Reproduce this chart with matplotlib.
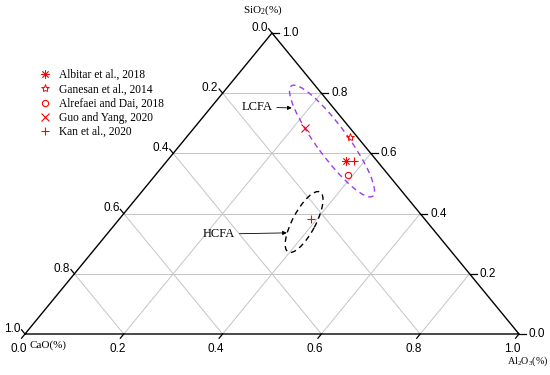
import matplotlib
matplotlib.use('Agg')
import matplotlib.pyplot as plt
from matplotlib.patches import Ellipse
from matplotlib.transforms import ScaledTranslation

# compositions (mass fractions)
albitar_sio2 = [0.575]
albitar_al2o3 = [0.362]
ganesan_sio2 = [0.654]
ganesan_al2o3 = [0.331]
alrefaei_sio2 = [0.528]
alrefaei_al2o3 = [0.390]
guo_sio2 = [0.684]
guo_al2o3 = [0.225]
kan_sio2 = [0.575, 0.382]
kan_al2o3 = [0.378, 0.388]

tick_values = [0.0, 0.2, 0.4, 0.6, 0.8, 1.0]
grid_values = [0.2, 0.4, 0.6, 0.8]

SERIF = 'Liberation Serif'
SANS = 'Liberation Sans'
RED = '#ff0000'

plt.rcParams['mathtext.fontset'] = 'custom'
plt.rcParams['mathtext.rm'] = SERIF
plt.rcParams['mathtext.it'] = SERIF
plt.rcParams['mathtext.default'] = 'regular'


def to_xy(si, al):
    # SiO2 at the top vertex, Al2O3 at bottom right, CaO at bottom left
    x = [a + s / 2 for s, a in zip(si, al)]
    return x, list(si)


def pt(si, al):
    return al + si / 2, si


fig = plt.figure(figsize=(5.5, 3.75), dpi=100)
ax = fig.add_axes([25 / 550, 41 / 375, 494 / 550, 301 / 375])
ax.set_xlim(0, 1)
ax.set_ylim(0, 1)
ax.axis('off')

# grid
gc = '#c4c4c4'
for v in grid_values:
    x, y = to_xy([v, v], [0, 1 - v])          # constant SiO2
    ax.plot(x, y, color=gc, lw=0.7, zorder=1)
    x, y = to_xy([0, 1 - v], [v, v])          # constant Al2O3
    ax.plot(x, y, color=gc, lw=0.7, zorder=1)
    x, y = to_xy([0, 1 - v], [1 - v, 0])      # constant CaO
    ax.plot(x, y, color=gc, lw=0.7, zorder=1)

# frame
x, y = to_xy([0, 0, 1, 0], [0, 1, 0, 0])
ax.plot(x, y, color='black', lw=1.0, zorder=3, clip_on=False)

# ticks and labels
t = 0.014
for v in tick_values:
    lab = f'{v:.1f}'
    # bottom: Al2O3
    x, y = to_xy([0, -t], [v, v])
    ax.plot(x, y, color='black', lw=0.9, clip_on=False)
    ax.annotate(lab, (x[1], y[1]), xytext=(-3, -11), textcoords='offset pixels',
                ha='center', va='center', fontsize=8.5, family=SANS, annotation_clip=False)
    # right: SiO2
    x, y = to_xy([v, v], [1 - v, 1 - v + t])
    ax.plot(x, y, color='black', lw=0.9, clip_on=False)
    ax.annotate(lab, (x[1], y[1]), xytext=(3, 0), textcoords='offset pixels',
                ha='left', va='center', fontsize=8.5, family=SANS, annotation_clip=False)
    # left: CaO
    x, y = to_xy([1 - v, 1 - v + t], [0, -t])
    ax.plot(x, y, color='black', lw=0.9, clip_on=False)
    ax.annotate(lab, (x[1], y[1]), xytext=(-9, 1), textcoords='offset pixels',
                ha='center', va='center', fontsize=8.5, family=SANS, annotation_clip=False)

# axis titles
ax.annotate('SiO$_2$(%)', pt(1, 0), xytext=(-9, 23), textcoords='offset pixels',
            ha='center', va='center', fontsize=8, family=SERIF, annotation_clip=False)
ax.annotate('CaO(%)', pt(0, 0), xytext=(23, -11), textcoords='offset pixels',
            ha='center', va='center', fontsize=8, family=SERIF, annotation_clip=False)
ax.annotate('Al$_2$O$_3$(%)', pt(0, 1), xytext=(9, -27), textcoords='offset pixels',
            ha='center', va='center', fontsize=7.2, family=SERIF, annotation_clip=False)

# data
ax.plot(*to_xy(albitar_sio2, albitar_al2o3), ls='none', marker=(8, 2, 0), ms=6,
        mec=RED, mew=0.6, label='Albitar et al., 2018', zorder=5)
ax.plot(*to_xy(ganesan_sio2, ganesan_al2o3), ls='none', marker='*', ms=6,
        mfc='none', mec=RED, mew=0.7, label='Ganesan et al., 2014', zorder=5)
ax.plot(*to_xy(alrefaei_sio2, alrefaei_al2o3), ls='none', marker='o', ms=4.5,
        mfc='none', mec=RED, mew=0.8, label='Alrefaei and Dai, 2018', zorder=5)
ax.plot(*to_xy(guo_sio2, guo_al2o3), ls='none', marker='x', ms=6,
        mec=RED, mew=0.8, label='Guo and Yang, 2020', zorder=5)
ax.plot(*to_xy(kan_sio2, kan_al2o3), ls='none', marker='+', ms=5.5,
        mec=RED, mew=0.8, label='Kan et al., 2020', zorder=5)

# group ellipses (size in inches, drawn around a composition)
lcfa_c = pt(0.641, 0.301)
hcfa_c = pt(0.372, 0.379)
ell1 = Ellipse((0, 0), 1.37, 0.31, angle=-53.6, fill=False, ec='#9b3cf0', lw=1.0,
               ls=(0, (4, 3)),
               transform=fig.dpi_scale_trans + ScaledTranslation(lcfa_c[0], lcfa_c[1], ax.transData))
ell2 = Ellipse((0, 0), 0.68, 0.23, angle=62, fill=False, ec='black', lw=1.0,
               ls=(0, (4, 3)),
               transform=fig.dpi_scale_trans + ScaledTranslation(hcfa_c[0], hcfa_c[1], ax.transData))
ax.add_patch(ell1)
ax.add_patch(ell2)

arrow = dict(arrowstyle='-|>', color='black', lw=0.6, mutation_scale=6, shrinkA=1, shrinkB=0)
ax.annotate('LCFA', xy=(0.540, 0.751), xytext=(0.470, 0.754), ha='center', va='center',
            fontsize=9, family=SERIF, arrowprops=arrow)
ax.annotate('HCFA', xy=(0.530, 0.336), xytext=(0.393, 0.332), ha='center', va='center',
            fontsize=9, family=SERIF, arrowprops=arrow)

ax.legend(loc='upper left', bbox_to_anchor=(39 / 550, 1 - 69 / 375), bbox_transform=fig.transFigure,
          frameon=False, prop={'family': SERIF, 'size': 8.3}, handlelength=1.1,
          handletextpad=0.6, labelspacing=0.2, borderpad=0, borderaxespad=0, numpoints=1)

fig.savefig('out.png', dpi=100)
